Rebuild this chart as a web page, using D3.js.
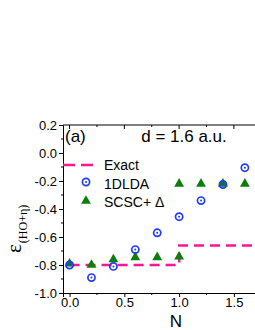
<!DOCTYPE html>
<html>
<head>
<meta charset="utf-8">
<script src="https://cdn.jsdelivr.net/npm/d3@7"></script>
<style>
	body { margin: 0; background: #fff; }
	svg { display: block; font-family: Arial, "Liberation Sans", sans-serif; }
</style>
</head>
<body>
<div id="chart"></div>
<script>
// values
var nVals = [0, 0.2, 0.4, 0.6, 0.8, 1.0, 1.2, 1.4, 1.6];
var ldaVals = [-0.80, -0.89, -0.81, -0.69, -0.57, -0.455, -0.34, -0.225, -0.105];
var scscN = [0, 0.2, 0.4, 0.6, 0.8, 1.0, 1.0, 1.2, 1.4, 1.6];
var scscVals = [-0.79, -0.80, -0.76, -0.745, -0.745, -0.74, -0.22, -0.22, -0.22, -0.22];
var exactN = [0, 1.0, 1.0, 1.72];
var exactVals = [-0.8, -0.8, -0.66, -0.66];
var xTicks = [0, 0.5, 1.0, 1.5];
var yTicks = [-1.0, -0.8, -0.6, -0.4, -0.2, 0.0, 0.2];
var legendLabels = ["Exact", "1DLDA", "SCSC+ \u0394"];

var W = 255, H = 330,
	margin = {top: 125, right: -3, bottom: 37, left: 63},
	width = W - margin.left - margin.right,
	height = H - margin.top - margin.bottom;

var pink = "#ff1493", blue = "#1f3dff", green = "#0a7f0a";

var svg = d3.select("#chart").append("svg")
	.attr("width", W).attr("height", H);

var g = svg.append("g")
	.attr("transform", "translate(" + margin.left + "," + margin.top + ")");

var x = d3.scaleLinear().domain([-0.06, 1.72]).range([0, width]);
var y = d3.scaleLinear().domain([-1.0, 0.2]).range([height, 0]);

function fmt(d) { return Math.abs(d) < 1e-9 ? "0.0" : d.toFixed(1); }

// axes
var xAxis = d3.axisBottom(x).tickValues(xTicks).tickFormat(fmt).tickSize(4).tickPadding(1);
var yAxis = d3.axisLeft(y).tickValues(yTicks).tickFormat(fmt).tickSize(4).tickPadding(2);

var gx = g.append("g").attr("transform", "translate(0," + height + ")").call(xAxis);
var gy = g.append("g").call(yAxis);
[gx, gy].forEach(function(a) {
	a.selectAll("text").style("font-size", "13px").style("fill", "#000");
	a.selectAll("line, path").attr("stroke", "#000").attr("stroke-width", 1);
});

// minor ticks
var xMinor = d3.range(-0.0, 1.8, 0.25).filter(function(v) { return xTicks.indexOf(v) < 0 && v < 1.72; });
var yMinor = d3.range(-0.9, 0.2, 0.2);
g.selectAll(".xminor").data(xMinor).enter().append("line")
	.attr("x1", x).attr("x2", x).attr("y1", height).attr("y2", height + 2)
	.attr("stroke", "#000");
g.selectAll(".yminor").data(yMinor).enter().append("line")
	.attr("x1", 0).attr("x2", -2).attr("y1", y).attr("y2", y)
	.attr("stroke", "#000");

// top axis line with inward ticks
g.append("line").attr("x1", 0).attr("x2", width).attr("y1", 0).attr("y2", 0).attr("stroke", "#000");
var topTicks = d3.range(0, 1.8, 0.25).filter(function(v) { return v < 1.72; });
g.selectAll(".ttick").data(topTicks).enter().append("line")
	.attr("x1", x).attr("x2", x).attr("y1", 0)
	.attr("y2", function(d) { return xTicks.indexOf(d) >= 0 ? 4 : 2; })
	.attr("stroke", "#000");

// exact line
var line = d3.line().x(function(d) { return x(d[0]); }).y(function(d) { return y(d[1]); });
g.append("path")
	.datum(d3.zip(exactN, exactVals))
	.attr("d", line)
	.attr("fill", "none").attr("stroke", pink).attr("stroke-width", 2.5)
	.attr("stroke-dasharray", "10,6");

// markers
function circleMark(sel) {
	sel.append("circle").attr("r", 3.6).attr("fill", "none").attr("stroke", blue).attr("stroke-width", 1.7);
	sel.append("circle").attr("r", 1).attr("fill", blue);
}
var tri = d3.symbol().type(d3.symbolTriangle).size(42);
function triMark(sel) {
	sel.append("path").attr("d", tri).attr("fill", green);
}

g.selectAll(".scsc").data(d3.zip(scscN, scscVals)).enter().append("g")
	.attr("transform", function(d) { return "translate(" + x(d[0]) + "," + y(d[1]) + ")"; })
	.call(triMark);

g.selectAll(".lda").data(d3.zip(nVals, ldaVals)).enter().append("g")
	.attr("transform", function(d) { return "translate(" + x(d[0]) + "," + y(d[1]) + ")"; })
	.call(circleMark);

// labels
g.append("text").attr("x", 2).attr("y", 17).style("font-size", "17px").text("(a)");
g.append("text").attr("x", 121).attr("y", 17).attr("text-anchor", "middle").style("font-size", "17px").text("d = 1.6 a.u.");

// legend
var leg = g.append("g");
leg.append("line").attr("x1", 0).attr("x2", 33).attr("y1", 40).attr("y2", 40)
	.attr("stroke", pink).attr("stroke-width", 2.5).attr("stroke-dasharray", "12,6");
leg.append("g").attr("transform", "translate(23,57)").call(circleMark);
leg.append("g").attr("transform", "translate(23,76)").call(triMark);
leg.selectAll(".lt").data(legendLabels).enter().append("text")
	.attr("x", 41).attr("y", function(d, i) { return 45 + i * 18.5; })
	.style("font-size", "14px").text(function(d) { return d; });

// axis titles
svg.append("text").attr("x", 176).attr("y", 326.5).attr("text-anchor", "middle")
	.style("font-size", "17px").text("N");

var yl = svg.append("text")
	.attr("transform", "translate(21,253) rotate(-90)")
	.style("font-family", "'Liberation Serif', 'DejaVu Serif', serif");
yl.append("tspan").style("font-size", "21px").text("\u03b5");
yl.append("tspan").attr("dy", 6).attr("dx", 1).style("font-size", "12px").text("(HO+\u03b7)");
</script>
</body>
</html>
